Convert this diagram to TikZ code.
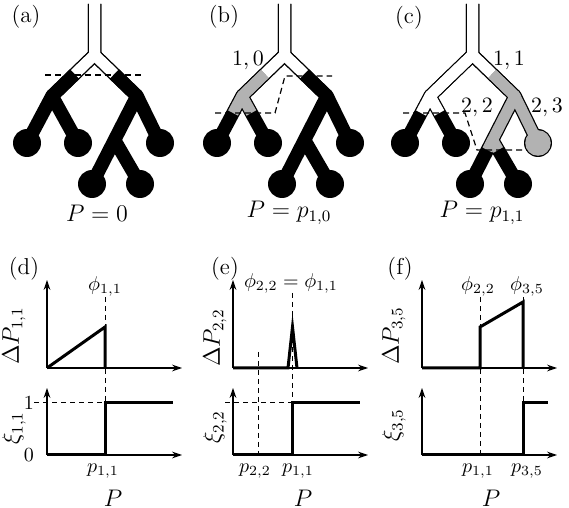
\documentclass[tikz,border=0pt]{standalone}
\usetikzlibrary{arrows.meta}
\begin{document}
\begin{tikzpicture}[x=0.5pt,y=-0.5pt,
  outer/.style={line width=6.75pt, black, line join=round, line cap=butt},
  inner/.style={line width=5.5pt, line join=round, line cap=butt},
  cutline/.style={line width=0.6pt, dash pattern=on 3pt off 2pt},
  axis/.style={line width=0.6pt, -{Stealth[length=5pt,width=3.4pt]}},
  curve/.style={line width=1.5pt, line join=miter},
  guide/.style={line width=0.5pt, dash pattern=on 2.5pt off 2pt},
  small/.style={font=\fontsize{10}{12}\selectfont, inner sep=0pt},
  tlab/.style={font=\fontsize{11}{13}\selectfont, inner sep=0pt},
  mid/.style={font=\fontsize{11.5}{13}\selectfont, inner sep=0pt},
  big/.style={font=\fontsize{12}{14}\selectfont, inner sep=0pt},
  leafgray/.style={fill=black!30},
]
\useasboundingbox (0,0) rectangle (569,508);
\newcommand\treecoords{%
  \coordinate (T0) at (94.5,2);
  \coordinate (T) at (94.5,4);
  \coordinate (J) at (94.5,55);
  \coordinate (L) at (52,96);
  \coordinate (LL) at (27,143);
  \coordinate (LR) at (78,143);
  \coordinate (R) at (137,96);
  \coordinate (RR) at (160,143);
  \coordinate (B1) at (92,184);
  \coordinate (M) at (114.5,140);
  \coordinate (B2) at (140,184);
  \coordinate (Pl) at (74.8,74);
  \coordinate (Pr) at (114.2,74);
  \coordinate (Ql1) at (43,113);
  \coordinate (Ql2) at (61.4,113);
  \coordinate (Q1) at (109.4,150);
  \coordinate (Q2) at (120.3,150);}
\newcommand\treeblack{%
  \draw[outer] (T)--(J)--(L)--(LL);
  \draw[outer] (J)--(L)--(LR);
  \draw[outer] (T)--(J)--(R)--(RR);
  \draw[outer] (J)--(R)--(B1);
  \draw[outer] (M)--(B2);
  \foreach \lf in {LL,LR,RR,B1,B2} {\fill (\lf) circle[radius=7pt];}}
% ---------- (a)
\begin{scope}
  \treecoords
  \treeblack
  \draw[inner,white] (T0)--(J)--(Pl);
  \draw[inner,white] (T0)--(J)--(Pr);
  \draw[cutline] (45,75) -- (143,75);
\end{scope}
% ---------- (b)
\begin{scope}[shift={(190,0)}]
  \treecoords
  \treeblack
  \draw[inner,white] (T0)--(J)--(Pl);
  \draw[inner,white] (T0)--(J)--(Pr);
  \draw[inner,black!30] (Pl)--(L)--(Ql1);
  \draw[inner,black!30] (Pl)--(L)--(Ql2);
  \draw[cutline] (25,113) -- (85,113) -- (95,76) -- (142,76);
\end{scope}
% ---------- (c)
\begin{scope}[shift={(378,0)}]
  \treecoords
  \treeblack
  \draw[inner,white] (T0)--(J)--(L)--(Ql1);
  \draw[inner,white] (J)--(L)--(Ql2);
  \draw[inner,white] (T0)--(J)--(Pr);
  \draw[inner,black!30] (Pr)--(R)--(RR);
  \draw[inner,black!30] (Pr)--(R)--(Q1);
  \draw[inner,black!30] (M)--(Q2);
  \fill[leafgray] (RR) circle[radius=6.4pt];
  \draw[cutline] (25,113) -- (87,113) -- (99,150) -- (149,150);
\end{scope}
% labels top
\node[mid] (la) at (26,17) {(a)};
\node[mid] (lb) at (224,17) {(b)};
\node[mid] (lc) at (409,18) {(c)};
\node[big] (pa) at (97,213) {$P=0$};
\node[big] (pb) at (289,213) {$P=p_{1,0}$};
\node[big] (pc) at (482,213) {$P=p_{1,1}$};
\node[tlab] (n10) at (248,61) {$1,0$};
\node[tlab] (n11) at (509,61) {$1,1$};
\node[tlab] (n22) at (477,108) {$2,2$};
\node[tlab] (n23) at (547,108) {$2,3$};
% ---------- (d)
\draw[axis] (47,368) -- (182,368);
\draw[axis] (47,368) -- (47,280);
\draw[axis] (47,455) -- (182,455);
\draw[axis] (47,455) -- (47,388);
\draw[guide] (105,297) -- (105,403);
\draw[guide] (34,403) -- (105,403);
\draw[curve] (47,368) -- (105,327) -- (105,368);
\draw[curve] (47,455) -- (105,455) -- (105,403) -- (173,403);
\node[mid] (ld) at (24,269) {(d)};
\node[small] at (105,286) {$\phi_{1,1}$};
\node[big,rotate=90] at (14,336) {$\Delta P_{1,1}$};
\node[big,rotate=90] at (14,428) {$\xi_{1,1}$};
\node[small] at (29,403) {$1$};
\node[small] at (29,455) {$0$};
\node[small] at (103,471) {$p_{1,1}$};
\node[big] at (113,498) {$P$};
% ---------- (e)
\draw[axis] (233,368) -- (368,368);
\draw[axis] (233,368) -- (233,280);
\draw[axis] (233,455) -- (368,455);
\draw[axis] (233,455) -- (233,388);
\draw[guide] (292.5,293) -- (292.5,403);
\draw[guide] (258,352) -- (258,455);
\draw[guide] (225,403) -- (292.5,403);
\draw[curve] (233,368) -- (288,368) -- (292.5,327) -- (297,368);
\draw[curve] (233,455) -- (292.5,455) -- (292.5,403) -- (360,403);
\node[mid] (le) at (225,269) {(e)};
\node[small] at (291,283) {$\phi_{2,2}=\phi_{1,1}$};
\node[big,rotate=90] at (215,338) {$\Delta P_{2,2}$};
\node[big,rotate=90] at (215,427) {$\xi_{2,2}$};
\node[small] at (255,471) {$p_{2,2}$};
\node[small] at (298,471) {$p_{1,1}$};
\node[big] at (303,498) {$P$};
% ---------- (f)
\draw[axis] (422,368) -- (557,368);
\draw[axis] (422,368) -- (422,280);
\draw[axis] (422,455) -- (557,455);
\draw[axis] (422,455) -- (422,388);
\draw[guide] (480,297) -- (480,455);
\draw[guide] (523,297) -- (523,403);
\draw[curve] (422,368) -- (480,368) -- (480,327) -- (523,302) -- (523,368);
\draw[curve] (422,455) -- (523,455) -- (523,403) -- (548,403);
\node[mid] (lf) at (400,269) {(f)};
\node[small] at (478,286) {$\phi_{2,2}$};
\node[small] at (527,286) {$\phi_{3,5}$};
\node[big,rotate=90] at (394,336) {$\Delta P_{3,5}$};
\node[big,rotate=90] at (394,425) {$\xi_{3,5}$};
\node[small] at (478,471) {$p_{1,1}$};
\node[small] at (527,471) {$p_{3,5}$};
\node[big] at (491,498) {$P$};
\end{tikzpicture}
\end{document}
